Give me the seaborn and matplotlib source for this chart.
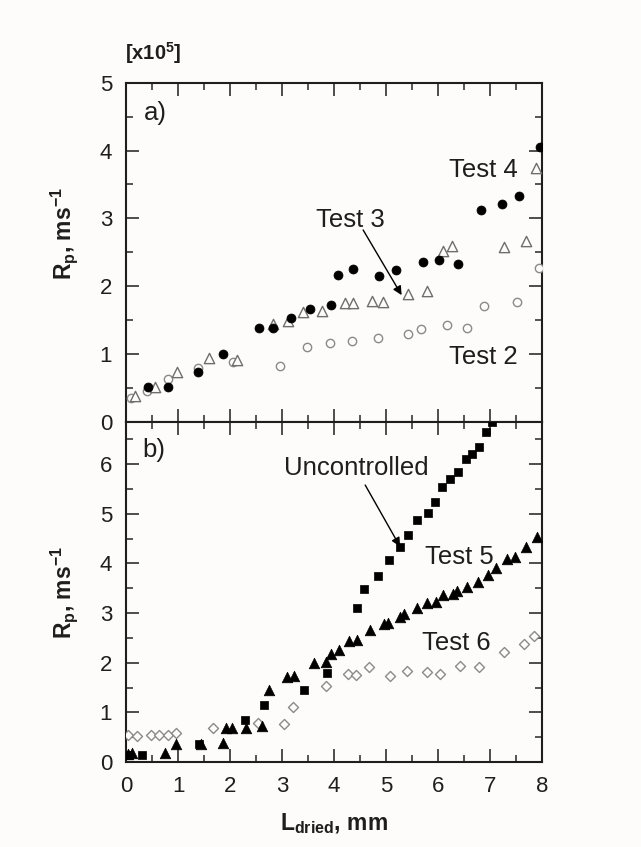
import numpy as np
import pandas as pd
import matplotlib
matplotlib.use("Agg")
import matplotlib.pyplot as plt
from matplotlib.ticker import MultipleLocator
import seaborn as sns

# ---------------- data ----------------
# Panel a) values in units of 1e5 m/s
t2_x = [0.09, 0.40, 0.81, 1.39, 2.05, 2.96, 3.49, 3.92, 4.34, 4.84, 5.43, 5.67, 6.17, 6.55, 6.88, 7.51, 7.95]
t2_y = [0.35, 0.46, 0.64, 0.79, 0.89, 0.82, 1.11, 1.17, 1.20, 1.24, 1.30, 1.37, 1.43, 1.39, 1.71, 1.77, 2.27]

t3_x = [0.17, 0.56, 0.99, 1.60, 2.13, 2.82, 3.11, 3.41, 3.76, 4.21, 4.37, 4.74, 4.95, 5.42, 5.78, 6.09, 6.26, 7.26, 7.70, 7.88]
t3_y = [0.39, 0.52, 0.73, 0.94, 0.92, 1.45, 1.49, 1.62, 1.63, 1.76, 1.76, 1.79, 1.77, 1.88, 1.93, 2.52, 2.59, 2.58, 2.66, 3.74]

t4_x = [0.42, 0.80, 1.39, 1.86, 2.56, 2.82, 3.17, 3.53, 3.94, 4.07, 4.37, 4.87, 5.19, 5.72, 6.02, 6.39, 6.83, 7.24, 7.55, 7.96]
t4_y = [0.52, 0.52, 0.74, 1.00, 1.38, 1.39, 1.53, 1.66, 1.72, 2.17, 2.26, 2.15, 2.24, 2.36, 2.39, 2.33, 3.12, 3.21, 3.33, 4.05]

# Panel b)
unc_x = [0.03, 0.31, 1.40, 2.28, 2.66, 3.42, 3.86, 4.45, 4.58, 4.84, 5.05, 5.26, 5.42, 5.59, 5.81, 5.94,
         6.08, 6.24, 6.39, 6.54, 6.66, 6.79, 6.92, 7.03]
unc_y = [0.14, 0.14, 0.36, 0.85, 1.15, 1.45, 1.80, 3.10, 3.49, 3.75, 4.07, 4.34, 4.58, 4.87, 5.01, 5.23,
         5.54, 5.70, 5.84, 6.10, 6.21, 6.34, 6.65, 6.86]

t5_x = [0.04, 0.12, 0.75, 0.96, 1.44, 1.87, 1.92, 2.04, 2.30, 2.62, 2.75, 3.09, 3.24, 3.62, 3.85, 3.94,
        4.10, 4.28, 4.44, 4.69, 4.97, 5.03, 5.26, 5.35, 5.59, 5.78, 5.97, 6.10, 6.29, 6.37, 6.55, 6.76,
        6.96, 7.12, 7.32, 7.49, 7.69, 7.90]
t5_y = [0.17, 0.19, 0.19, 0.36, 0.36, 0.38, 0.68, 0.68, 0.68, 0.73, 1.45, 1.71, 1.73, 2.00, 2.02, 2.18,
        2.26, 2.43, 2.46, 2.65, 2.78, 2.81, 2.92, 2.98, 3.10, 3.20, 3.23, 3.37, 3.39, 3.45, 3.53, 3.63,
        3.76, 3.90, 4.09, 4.14, 4.34, 4.54]

t6_x = [0.03, 0.22, 0.48, 0.64, 0.81, 0.96, 1.68, 2.53, 3.04, 3.22, 3.84, 4.26, 4.42, 4.67, 5.08, 5.41,
        5.78, 6.04, 6.42, 6.78, 7.27, 7.66, 7.85]
t6_y = [0.54, 0.52, 0.54, 0.54, 0.54, 0.59, 0.69, 0.78, 0.77, 1.10, 1.54, 1.77, 1.75, 1.91, 1.73, 1.83,
        1.82, 1.77, 1.94, 1.92, 2.21, 2.38, 2.54]

x_ticks = [0, 1, 2, 3, 4, 5, 6, 7, 8]
ya_ticks = [0, 1, 2, 3, 4, 5]
yb_ticks = [0, 1, 2, 3, 4, 5, 6]

# ---------------- style ----------------
BG = "#fefcfa"
sns.set_style("ticks")
plt.rcParams["font.family"] = ["Liberation Sans", "DejaVu Sans"]
plt.rcParams["mathtext.fontset"] = "custom"
plt.rcParams["mathtext.rm"] = "Liberation Sans:bold"
plt.rcParams["mathtext.it"] = "Liberation Sans:bold"
plt.rcParams["mathtext.bf"] = "Liberation Sans:bold"
plt.rcParams["mathtext.default"] = "bf"

fig = plt.figure(figsize=(6.41, 8.47), dpi=100, facecolor=BG)
L, R = 126 / 641, 542 / 641
top_a, mid, bot_b = 1 - 82.7 / 847, 1 - 422 / 847, 1 - 762 / 847
ax_a = fig.add_axes([L, mid, R - L, top_a - mid])
ax_b = fig.add_axes([L, bot_b, R - L, mid - bot_b])

TICK_FS = 16
LAB_FS = 16.5
ANN_FS = 18.5
TXT = "#1e1e1e"

df2 = pd.DataFrame({"x": t2_x, "y": t2_y})
df3 = pd.DataFrame({"x": t3_x, "y": t3_y})
df4 = pd.DataFrame({"x": t4_x, "y": t4_y})
dfu = pd.DataFrame({"x": unc_x, "y": unc_y})
df5 = pd.DataFrame({"x": t5_x, "y": t5_y})
df6 = pd.DataFrame({"x": t6_x, "y": t6_y})

# panel a
sns.scatterplot(data=df2, x="x", y="y", ax=ax_a, marker="o", s=36, color=BG, edgecolor="#8a8a8a", linewidth=1.0, zorder=3)
sns.scatterplot(data=df3, x="x", y="y", ax=ax_a, marker="^", s=55, color=BG, edgecolor="#6e6e6e", linewidth=1.0, zorder=3)
sns.scatterplot(data=df4, x="x", y="y", ax=ax_a, marker="o", s=42, color="black", edgecolor="black", linewidth=0.5, zorder=4)

# panel b
sns.scatterplot(data=df6, x="x", y="y", ax=ax_b, marker="D", s=26, color=BG, edgecolor="#8a8a8a", linewidth=1.0, zorder=3)
sns.scatterplot(data=dfu, x="x", y="y", ax=ax_b, marker="s", s=26, color="black", edgecolor="black", linewidth=0.5, zorder=4)
sns.scatterplot(data=df5, x="x", y="y", ax=ax_b, marker="^", s=58, color="black", edgecolor="black", linewidth=0.5, zorder=4)

for ax in (ax_a, ax_b):
    ax.set_facecolor(BG)
    ax.set_xlim(0, 8)
    ax.set_xticks(x_ticks)
    ax.xaxis.set_minor_locator(MultipleLocator(0.5))
    ax.yaxis.set_minor_locator(MultipleLocator(0.5))
    ax.tick_params(which="major", direction="in", length=9.5, width=1.1, top=True, right=True,
                   labelsize=TICK_FS, colors=TXT, pad=10)
    ax.tick_params(which="minor", direction="in", length=5, width=1.1, top=True, right=True)
    for sp in ax.spines.values():
        sp.set_linewidth(1.5)
        sp.set_color(TXT)
    ax.set_xlabel("")

ax_a.set_ylim(0, 5)
ax_a.set_yticks(ya_ticks)
ax_a.set_xticklabels([])
ax_b.set_ylim(0, 6.85)
ax_b.set_yticks(yb_ticks)
ax_b.set_xticklabels([str(v) for v in x_ticks])

ax_a.set_ylabel(r"R$_p$, ms$^{-1}$", fontsize=LAB_FS, fontweight="bold", color=TXT)
ax_b.set_ylabel(r"R$_p$, ms$^{-1}$", fontsize=LAB_FS, fontweight="bold", color=TXT)
ax_a.yaxis.set_label_coords(-0.11, 0.555)
ax_b.yaxis.set_label_coords(-0.11, 0.5)
ax_b.set_xlabel(r"L$_{dried}$, mm", fontsize=LAB_FS, fontweight="bold", labelpad=10, color=TXT)

fig.text(153 / 641, 1 - 53 / 847, r"[x10$^5$]", fontsize=14.5, fontweight="bold", ha="center", va="center", color=TXT)

# panel letters and annotations
ax_a.text(0.56, 4.55, "a)", fontsize=ANN_FS, ha="center", va="center", color=TXT)
ax_b.text(0.54, 6.29, "b)", fontsize=ANN_FS, ha="center", va="center", color=TXT)

ax_a.text(6.87, 3.71, "Test 4", fontsize=ANN_FS, ha="center", va="center", color=TXT)
ax_a.text(6.87, 0.96, "Test 2", fontsize=ANN_FS, ha="center", va="center", color=TXT)
ax_a.text(4.31, 2.97, "Test 3", fontsize=ANN_FS, ha="center", va="center", color=TXT)
ax_a.annotate("", xy=(5.30, 1.87), xytext=(4.56, 2.83),
              arrowprops=dict(arrowstyle="-|>", color="black", lw=1.0, mutation_scale=13, shrinkA=0, shrinkB=0))

ax_b.text(4.43, 5.93, "Uncontrolled", fontsize=ANN_FS, ha="center", va="center", color=TXT)
ax_b.annotate("", xy=(5.27, 4.34), xytext=(4.60, 5.58),
              arrowprops=dict(arrowstyle="-|>", color="black", lw=1.0, mutation_scale=13, shrinkA=0, shrinkB=0))
ax_b.text(6.42, 4.14, "Test 5", fontsize=ANN_FS, ha="center", va="center", color=TXT)
ax_b.text(6.36, 2.39, "Test 6", fontsize=ANN_FS, ha="center", va="center", color=TXT)

fig.savefig("out.png", dpi=100, facecolor=BG)
